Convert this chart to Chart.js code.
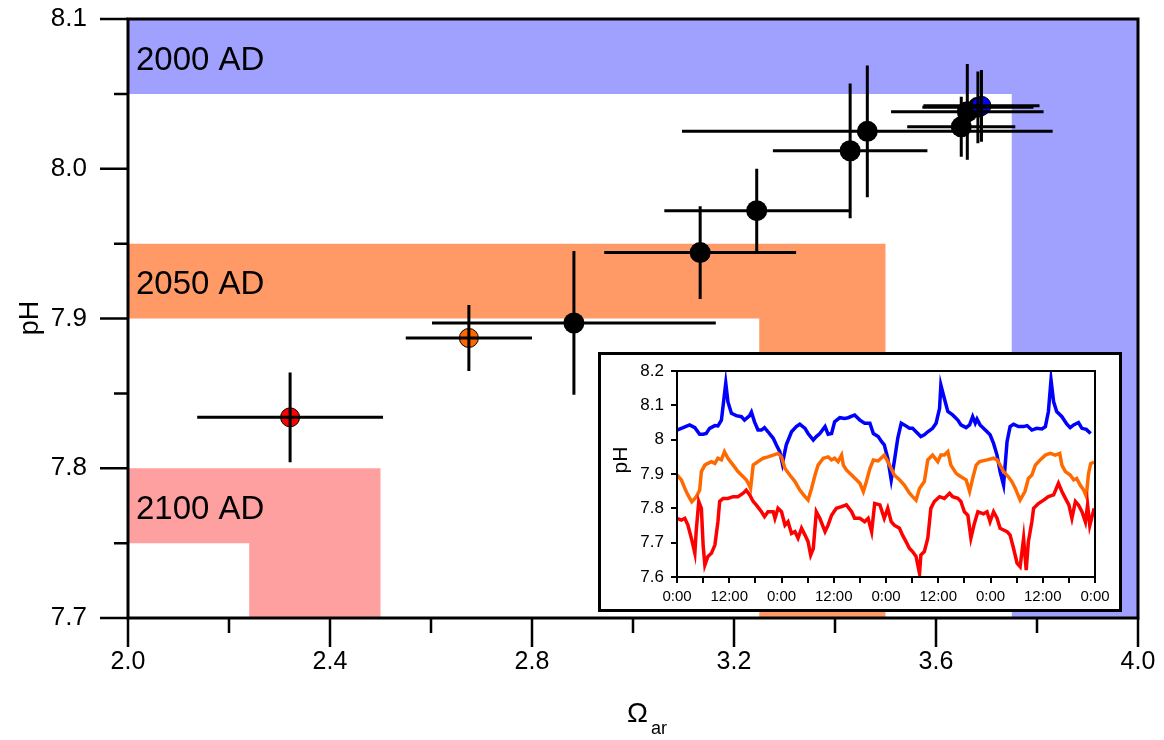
<!DOCTYPE html>
<html><head><meta charset="utf-8">
<script src="https://cdn.jsdelivr.net/npm/chart.js@4.4.0/dist/chart.umd.min.js"></script>
<style>
html,body{margin:0;padding:0;background:#fff;}
#wrap{position:relative;width:1164px;height:740px;overflow:hidden;}
#main{position:absolute;left:0;top:0;}
#insetBox{position:absolute;left:598px;top:352px;width:524px;height:260px;border:3px solid #000;box-sizing:border-box;background:#fff;}
#inset{position:absolute;left:0;top:0;}
</style></head>
<body><div id="wrap"><canvas id="main" width="1164" height="740"></canvas><div id="insetBox"><canvas id="inset" width="518" height="254"></canvas></div></div>
<script>
// ---------- main chart data ----------
const omega   = [2.321, 2.675, 2.883, 3.133, 3.245, 3.430, 3.464, 3.650, 3.662, 3.683, 3.690];
const pH      = [7.834, 7.887, 7.897, 7.944, 7.972, 8.012, 8.025, 8.028, 8.038, 8.041, 8.042];
const omegaErr= [0.184, 0.125, 0.281, 0.190, 0.183, 0.153, 0.367, 0.107, 0.151, 0.110, 0.115];
const pHErr   = [0.030, 0.022, 0.048, 0.031, 0.028, 0.045, 0.044, 0.020, 0.032, 0.024, 0.024];
const pointColors = ['#ff0000','#ff6600','#000','#000','#000','#000','#000','#000','#000','#000','#0000ff'];

const bandNames = ['2000 AD','2050 AD','2100 AD'];
const bandColors = ['#a0a0ff','#ff9966','#ffa0a0'];
// L-shaped scenario regions: [omega, pH] corners
const band2000 = [[2.0,8.1],[4.0,8.1],[4.0,7.7],[3.75,7.7],[3.75,8.05],[2.0,8.05]];
const band2050 = [[2.0,7.95],[3.5,7.95],[3.5,7.7],[3.25,7.7],[3.25,7.9],[2.0,7.9]];
const band2100 = [[2.0,7.8],[2.5,7.8],[2.5,7.7],[2.24,7.7],[2.24,7.75],[2.0,7.75]];
const bandLabelPH = [8.075, 7.925, 7.775];

const xMajorTicks = [2.0,2.4,2.8,3.2,3.6,4.0];
const xMinorTicks = [2.2,2.6,3.0,3.4,3.8];
const yMajorTicks = [7.7,7.8,7.9,8.0,8.1];
const yMinorTicks = [7.75,7.85,7.95,8.05];

// ---------- inset data (hours, pH) ----------
const blueHours = [0,1.4,2.9,4.1,5.2,6.0,6.7,7.5,8.7,9.4,10.2,10.6,11.2,11.7,12.5,13.6,14.8,15.5,16.7,17.1,17.8,18.6,19.4,20.1,20.9,22.1,22.8,23.6,24.2,25.1,26.3,27.4,28.2,29.4,30.1,31.3,32.0,32.8,34.0,34.7,35.5,36.2,37.4,38.5,39.3,40.8,42.0,43.1,44.3,45.1,46.2,47.0,47.6,48.4,49.2,49.9,50.7,51.5,52.2,53.4,54.1,54.9,56.0,56.8,57.6,58.7,59.5,60.3,60.6,61.4,62.2,63.3,64.5,65.2,66.4,67.2,67.9,68.5,68.9,69.6,70.8,71.9,72.7,73.5,74.2,75.0,75.8,76.5,77.3,78.4,79.6,80.4,81.5,82.6,83.8,84.6,85.3,85.9,86.5,87.2,88.4,89.5,90.3,91.1,92.2,93.0,94.0,95.0];
const bluePH = [8.028,8.035,8.043,8.035,8.016,8.016,8.018,8.033,8.041,8.040,8.057,8.100,8.165,8.110,8.077,8.070,8.067,8.057,8.070,8.080,8.052,8.028,8.028,8.035,8.023,8.004,7.985,7.965,7.930,7.985,8.023,8.038,8.045,8.033,8.018,7.999,8.009,8.018,8.038,8.016,8.018,8.052,8.064,8.062,8.064,8.072,8.057,8.048,8.048,8.018,8.009,7.994,7.985,7.946,7.883,7.936,8.004,8.048,8.043,8.033,8.033,8.023,8.009,8.014,8.023,8.033,8.048,8.091,8.159,8.120,8.082,8.072,8.057,8.043,8.035,8.043,8.067,8.048,8.060,8.043,8.028,8.014,7.989,7.955,7.907,7.868,7.994,8.038,8.045,8.038,8.038,8.041,8.028,8.033,8.031,8.038,8.082,8.174,8.110,8.082,8.067,8.046,8.035,8.043,8.050,8.033,8.030,8.018];

const orangeHours = [0,1.0,1.8,2.5,3.4,4.4,5.2,5.6,6.4,7.1,7.9,8.7,9.4,10.2,10.9,11.7,12.9,14.0,15.2,15.9,16.5,16.9,17.5,18.6,19.8,20.9,22.1,23.2,24.0,24.8,25.9,27.1,28.2,29.4,30.1,30.9,31.7,32.4,33.6,34.7,35.5,36.2,37.0,37.8,38.2,38.9,40.1,41.2,42.0,42.8,43.5,44.3,45.1,46.2,47.6,48.4,49.2,49.9,51.1,52.2,53.4,54.1,54.9,55.7,56.8,57.6,58.7,59.9,60.6,61.4,62.2,62.9,64.1,65.2,66.4,67.2,67.9,68.7,69.5,71.2,72.7,73.5,74.2,75.0,76.1,76.9,77.7,78.8,79.9,80.7,81.5,82.3,83.4,84.6,85.7,86.9,87.9,88.4,89.2,90.3,91.1,91.8,92.6,93.4,94.0,94.5,95.0,95.8];
const orangePH = [7.897,7.883,7.858,7.839,7.819,7.833,7.853,7.907,7.926,7.931,7.936,7.931,7.946,7.941,7.965,7.946,7.926,7.907,7.892,7.883,7.870,7.858,7.926,7.936,7.946,7.950,7.955,7.960,7.950,7.916,7.897,7.878,7.853,7.834,7.824,7.858,7.897,7.926,7.946,7.950,7.941,7.946,7.936,7.955,7.926,7.912,7.897,7.883,7.873,7.849,7.878,7.916,7.941,7.938,7.955,7.936,7.916,7.897,7.883,7.868,7.844,7.834,7.824,7.858,7.878,7.941,7.955,7.936,7.955,7.955,7.965,7.926,7.902,7.892,7.883,7.849,7.887,7.926,7.936,7.941,7.946,7.941,7.926,7.907,7.892,7.878,7.858,7.824,7.849,7.887,7.897,7.926,7.941,7.955,7.960,7.955,7.960,7.926,7.907,7.897,7.883,7.887,7.868,7.853,7.835,7.900,7.930,7.935];

const redHours = [0,1.0,1.8,2.5,3.3,4.1,4.4,5.0,5.6,6.0,6.4,7.1,7.9,8.7,9.4,9.8,10.6,11.7,12.9,14.0,15.2,15.9,16.7,17.5,18.2,19.4,20.1,20.9,22.1,22.5,23.2,24.0,24.8,25.5,26.3,27.1,27.8,28.6,29.4,30.1,30.7,31.3,32.0,32.8,34.0,34.7,35.5,36.6,37.8,38.9,40.1,40.8,42.0,43.1,43.9,44.7,45.4,46.6,47.6,48.4,49.2,49.9,51.1,51.8,52.6,53.4,54.1,54.9,55.7,56.0,56.8,57.6,58.3,59.1,60.3,61.4,62.6,63.3,64.5,65.2,66.0,66.8,67.5,68.3,69.1,70.4,71.2,71.9,72.7,73.5,74.2,75.0,75.8,76.5,77.3,78.1,78.8,79.6,80.2,80.7,81.5,81.9,83.0,84.2,85.3,86.5,87.6,88.4,89.2,90.0,90.7,91.5,92.2,93.0,93.8,94.3,94.8,95.8];
const redPH = [7.771,7.766,7.771,7.751,7.713,7.669,7.732,7.820,7.800,7.693,7.635,7.660,7.669,7.693,7.761,7.820,7.829,7.829,7.834,7.834,7.844,7.853,7.839,7.820,7.810,7.790,7.776,7.790,7.790,7.771,7.800,7.790,7.751,7.761,7.727,7.732,7.713,7.742,7.722,7.703,7.664,7.683,7.790,7.771,7.732,7.751,7.780,7.800,7.805,7.810,7.790,7.771,7.771,7.761,7.771,7.732,7.814,7.810,7.771,7.800,7.761,7.751,7.742,7.722,7.703,7.683,7.674,7.660,7.610,7.664,7.674,7.713,7.800,7.820,7.834,7.829,7.844,7.834,7.829,7.820,7.790,7.780,7.713,7.756,7.790,7.784,7.790,7.761,7.790,7.771,7.742,7.737,7.732,7.722,7.683,7.640,7.630,7.713,7.620,7.703,7.761,7.800,7.814,7.824,7.834,7.839,7.873,7.849,7.829,7.810,7.771,7.820,7.810,7.790,7.760,7.810,7.750,7.800];

const FONT = '"Liberation Sans", Arial, Helvetica, sans-serif';

// ---------- main chart plugins ----------
const bandsPlugin = {
  id:'bands',
  beforeDatasetsDraw(chart){
    const {ctx, scales:{x,y}} = chart;
    [band2000, band2050, band2100].forEach((poly, i)=>{
      ctx.save();
      ctx.fillStyle = bandColors[i];
      ctx.beginPath();
      poly.forEach(([ox,py],k)=>{
        const px = x.getPixelForValue(ox), pyy = y.getPixelForValue(py);
        k ? ctx.lineTo(px,pyy) : ctx.moveTo(px,pyy);
      });
      ctx.closePath(); ctx.fill();
      ctx.fillStyle = '#000';
      ctx.font = '33px ' + FONT;
      ctx.textAlign = 'left'; ctx.textBaseline = 'middle';
      ctx.fillText(bandNames[i], x.getPixelForValue(2.0) + 8, y.getPixelForValue(bandLabelPH[i]) + 4);
      ctx.restore();
    });
  }
};
const errorBars = {
  id:'errorBars',
  afterDatasetsDraw(chart){
    const {ctx, scales:{x,y}} = chart;
    ctx.save();
    ctx.strokeStyle = '#000'; ctx.lineWidth = 3; ctx.lineCap = 'butt';
    omega.forEach((o,i)=>{
      const px = x.getPixelForValue(o), py = y.getPixelForValue(pH[i]);
      ctx.beginPath();
      ctx.moveTo(x.getPixelForValue(o-omegaErr[i]), py);
      ctx.lineTo(x.getPixelForValue(o+omegaErr[i]), py);
      ctx.moveTo(px, y.getPixelForValue(pH[i]-pHErr[i]));
      ctx.lineTo(px, y.getPixelForValue(pH[i]+pHErr[i]));
      ctx.stroke();
    });
    ctx.restore();
  }
};
const frameTicks = {
  id:'frameTicks',
  afterDraw(chart){
    const {ctx, chartArea:a, scales:{x,y}} = chart;
    ctx.save();
    ctx.strokeStyle = '#000'; ctx.lineWidth = 3;
    ctx.strokeRect(a.left, a.top, a.right-a.left, a.bottom-a.top);
    ctx.lineWidth = 2.5;
    ctx.beginPath();
    xMajorTicks.forEach(v=>{const p=x.getPixelForValue(v); ctx.moveTo(p,a.bottom); ctx.lineTo(p,a.bottom+29);});
    xMinorTicks.forEach(v=>{const p=x.getPixelForValue(v); ctx.moveTo(p,a.bottom); ctx.lineTo(p,a.bottom+15);});
    yMajorTicks.forEach(v=>{const p=y.getPixelForValue(v); ctx.moveTo(a.left,p); ctx.lineTo(a.left-28,p);});
    yMinorTicks.forEach(v=>{const p=y.getPixelForValue(v); ctx.moveTo(a.left,p); ctx.lineTo(a.left-14,p);});
    ctx.stroke();
    // axis titles
    ctx.fillStyle = '#000';
    ctx.font = '27px ' + FONT;
    ctx.textAlign = 'center'; ctx.textBaseline = 'middle';
    ctx.save(); ctx.translate(31, 318); ctx.rotate(-Math.PI/2); ctx.fillText('pH', 0, 0); ctx.restore();
    ctx.textAlign = 'left'; ctx.textBaseline = 'alphabetic';
    ctx.font = '28px ' + FONT;
    ctx.fillText('Ω', 627, 722);
    ctx.font = '18px "Liberation Sans Narrow", ' + FONT;
    ctx.fillText('ar', 651, 734);
    ctx.restore();
  }
};

new Chart(document.getElementById('main'), {
  type:'scatter',
  data:{datasets:[{
    data: omega.map((o,i)=>({x:o, y:pH[i]})),
    pointBackgroundColor: pointColors,
    pointBorderColor: '#000',
    pointBorderWidth: pointColors.map(c=> c==='#000'?0:1),
    pointRadius: pointColors.map(c=> c==='#000'?10.5:9.5),
    showLine:false, clip:false
  }]},
  options:{
    responsive:false, animation:false, events:[],
    layout:{autoPadding:false, padding:{top:19,right:26,left:0,bottom:0}},
    plugins:{legend:{display:false},tooltip:{enabled:false}},
    scales:{
      x:{type:'linear', min:2, max:4,
        afterFit:s=>{s.height=122; s.paddingLeft=0; s.paddingRight=0;},
        grid:{display:false, drawTicks:false}, border:{display:false},
        ticks:{stepSize:0.4, padding:29, color:'#000', font:{size:25, family:FONT}, maxRotation:0, autoSkip:false,
          callback:v=>v.toFixed(1)}},
      y:{type:'linear', min:7.7, max:8.1,
        afterFit:s=>{s.width=128; s.paddingTop=0; s.paddingBottom=0;},
        grid:{display:false, drawTicks:false}, border:{display:false},
        ticks:{stepSize:0.1, padding:41, color:'#000', font:{size:26, family:FONT},
          callback:v=>v.toFixed(1)}}
    }
  },
  plugins:[bandsPlugin, errorBars, frameTicks]
});

// ---------- inset ----------
const insetFrame = {
  id:'insetFrame',
  afterDraw(chart){
    const {ctx, chartArea:a} = chart;
    ctx.save();
    ctx.strokeStyle='#000'; ctx.lineWidth=2;
    ctx.strokeRect(a.left, a.top, a.right-a.left, a.bottom-a.top);
    ctx.fillStyle='#000'; ctx.font='21px '+FONT; ctx.textAlign='center'; ctx.textBaseline='middle';
    ctx.translate(20, 105); ctx.rotate(-Math.PI/2); ctx.fillText('pH',0,0);
    ctx.restore();
  }
};
const mk = (hours, vals) => hours.map((h,i)=>({x:h, y:vals[i]}));
new Chart(document.getElementById('inset'), {
  type:'line',
  data:{datasets:[
    {data:mk(redHours, redPH), borderColor:'#ff0000', borderWidth:3.5, pointRadius:0, tension:0},
    {data:mk(orangeHours, orangePH), borderColor:'#ff6a00', borderWidth:3.5, pointRadius:0, tension:0},
    {data:mk(blueHours, bluePH), borderColor:'#0000ff', borderWidth:3.5, pointRadius:0, tension:0}
  ]},
  options:{
    responsive:false, animation:false, events:[],
    layout:{autoPadding:false, padding:{top:16,right:24,left:0,bottom:0}},
    plugins:{legend:{display:false},tooltip:{enabled:false}},
    scales:{
      x:{type:'linear', min:0, max:96,
        afterFit:s=>{s.height=32; s.paddingLeft=0; s.paddingRight=0;},
        grid:{display:true, drawOnChartArea:false, drawTicks:true, tickLength:6, color:'#000', lineWidth:2},
        border:{display:true, color:'#000', width:2},
        ticks:{stepSize:6, padding:5, color:'#000', font:{size:15, family:FONT}, maxRotation:0, autoSkip:false,
          callback:v=> (v%12===0) ? ((v%24)+':00') : ''}},
      y:{type:'linear', min:7.6, max:8.2,
        afterFit:s=>{s.width=76; s.paddingTop=0; s.paddingBottom=0;},
        grid:{display:true, drawOnChartArea:false, drawTicks:true, tickLength:6, color:'#000', lineWidth:2},
        border:{display:true, color:'#000', width:2},
        ticks:{stepSize:0.1, padding:7, color:'#000', font:{size:17, family:FONT},
          callback:v=> String(Number(v.toFixed(1)))}}
    }
  },
  plugins:[insetFrame]
});
</script>
</body></html>
